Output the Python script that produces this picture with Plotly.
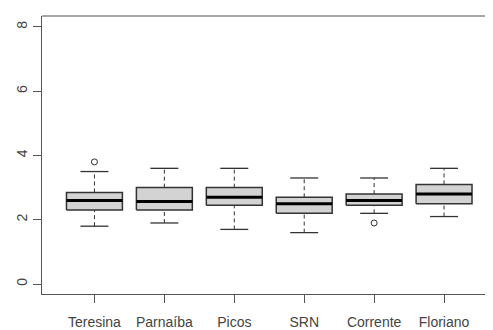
import plotly.graph_objects as go

categories = ["Teresina", "Parnaíba", "Picos", "SRN", "Corrente", "Floriano"]
lower = [1.8, 1.9, 1.7, 1.6, 2.2, 2.1]
q1 = [2.3, 2.3, 2.45, 2.2, 2.45, 2.5]
median = [2.6, 2.57, 2.7, 2.5, 2.6, 2.8]
q3 = [2.85, 3.0, 3.0, 2.7, 2.8, 3.1]
upper = [3.5, 3.6, 3.6, 3.3, 3.3, 3.6]
outlier_groups = ["Teresina", "Corrente"]
outlier_values = [3.8, 1.9]
y_ticks = [0, 2, 4, 6, 8]

BOX_HALF = 0.4
CAP_HALF = 0.2
EDGE = "#333333"

fig = go.Figure()

pos = list(range(1, len(categories) + 1))

# whiskers (dashed)
wx, wy = [], []
for p, lo, a, b, hi in zip(pos, lower, q1, q3, upper):
    wx += [p, p, None, p, p, None]
    wy += [lo, a, None, b, hi, None]
fig.add_trace(go.Scatter(x=wx, y=wy, mode="lines",
                         line=dict(color=EDGE, width=1, dash="4px,3px"),
                         hoverinfo="skip", showlegend=False))

# caps
cx, cy = [], []
for p, lo, hi in zip(pos, lower, upper):
    cx += [p - CAP_HALF, p + CAP_HALF, None, p - CAP_HALF, p + CAP_HALF, None]
    cy += [lo, lo, None, hi, hi, None]
fig.add_trace(go.Scatter(x=cx, y=cy, mode="lines",
                         line=dict(color=EDGE, width=1.3),
                         hoverinfo="skip", showlegend=False))

# boxes
for p, a, b in zip(pos, q1, q3):
    fig.add_trace(go.Scatter(
        x=[p - BOX_HALF, p + BOX_HALF, p + BOX_HALF, p - BOX_HALF, p - BOX_HALF],
        y=[a, a, b, b, a], mode="lines", fill="toself",
        fillcolor="#D3D3D3", line=dict(color=EDGE, width=1.5),
        hoverinfo="skip", showlegend=False))

# medians
mx, my = [], []
for p, m in zip(pos, median):
    mx += [p - BOX_HALF, p + BOX_HALF, None]
    my += [m, m, None]
fig.add_trace(go.Scatter(x=mx, y=my, mode="lines",
                         line=dict(color="black", width=3),
                         hoverinfo="skip", showlegend=False))

# outliers
ox = [pos[categories.index(g)] for g in outlier_groups]
fig.add_trace(go.Scatter(x=ox, y=outlier_values, mode="markers",
                         marker=dict(symbol="circle-open", size=6,
                                     color=EDGE, line=dict(width=1)),
                         hoverinfo="skip", showlegend=False))

fig.update_layout(
    width=485, height=322,
    margin=dict(l=34, r=0, t=8, b=36),
    plot_bgcolor="white", paper_bgcolor="white",
    font=dict(family="Liberation Sans, Arial, sans-serif", size=14, color="#444444"),
    xaxis=dict(range=[0.25, 6.70], tickmode="array", tickvals=pos,
               ticktext=categories, ticks="outside", ticklen=8,
               tickcolor="#555555", showgrid=False, zeroline=False,
               showline=True, linecolor="#555555", linewidth=1,
               ticklabelstandoff=7),
    yaxis=dict(range=[-0.31, 8.34], tickmode="array", tickvals=y_ticks,
               ticktext=[str(v) for v in y_ticks], ticks="outside", ticklen=8,
               tickcolor="#555555", tickangle=-90, showgrid=False,
               zeroline=False, showline=True, linecolor="#555555", linewidth=1,
               ticklabelstandoff=0),
    shapes=[dict(type="line", xref="paper", yref="paper", x0=0, x1=1,
                 y0=1, y1=1, line=dict(color="#555555", width=1))],
)

fig.write_html("out.html")
